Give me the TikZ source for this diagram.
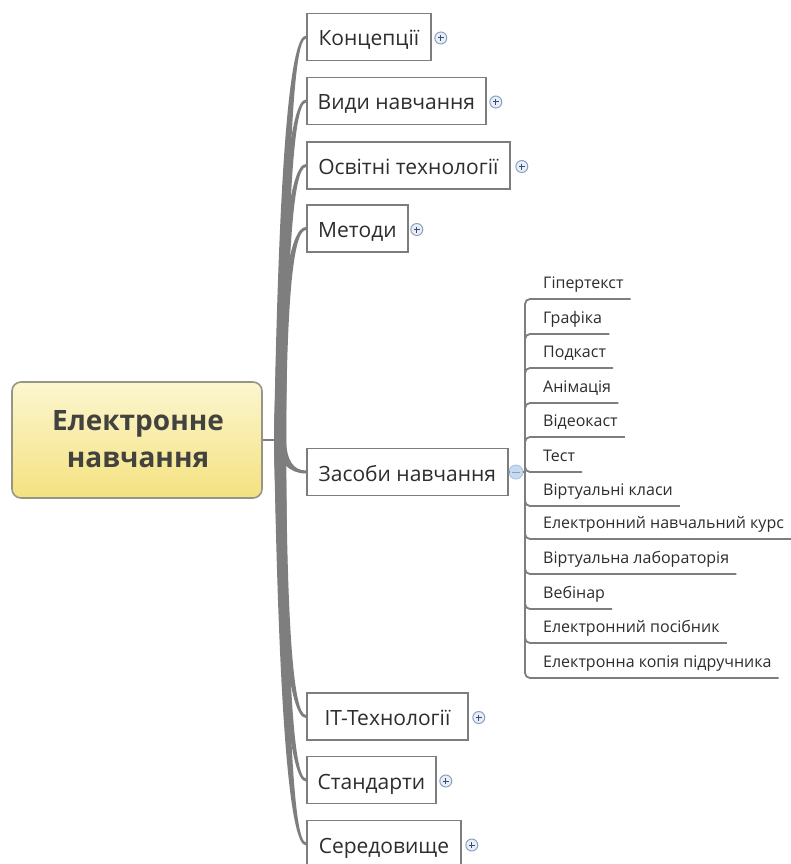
\documentclass[tikz,border=0pt]{standalone}
\usepackage{fontspec}
\setmainfont{Open Sans}
\usetikzlibrary{calc}
\definecolor{boxgray}{RGB}{125,125,125}
\definecolor{limbgray}{RGB}{126,126,126}
\definecolor{txtgray}{RGB}{45,45,45}
\definecolor{roottxt}{RGB}{66,66,62}
\definecolor{rootborder}{RGB}{150,150,135}
\definecolor{roottop}{RGB}{252,246,208}
\definecolor{rootbot}{RGB}{244,226,128}
\definecolor{plusring}{RGB}{140,160,190}
\definecolor{plusfill}{RGB}{232,238,248}
\definecolor{plusbar}{RGB}{60,75,110}
\definecolor{minusring}{RGB}{170,196,228}
\definecolor{minusfill}{RGB}{200,218,240}
\tikzset{
  branchbox/.style={draw=boxgray, line width=1.8, fill=white, anchor=west,
    minimum height=47, inner xsep=0, inner ysep=0, text=txtgray,
    font=\fontsize{21}{24}\selectfont, text height=18, text depth=0},
  rootbox/.style={draw=rootborder, line width=1.6, rounded corners=9,
    top color=roottop, bottom color=rootbot, minimum width=250, minimum height=116, inner sep=0},
  roottext/.style={anchor=base, inner sep=0, text=roottxt, font=\fontsize{28}{34}\selectfont\bfseries},
  subitem/.style={anchor=base west, inner sep=0, text=txtgray, font=\fontsize{16}{18}\selectfont},
  subline/.style={draw=limbgray, line width=1.8},
  limbfill/.style={fill=limbgray},
  plusicon/.style={circle, draw=plusring, fill=plusfill, line width=1, minimum size=12, inner sep=0,
    path picture={\draw[line width=1, draw=plusbar] ($(path picture bounding box.center)+(-3,0)$) -- ($(path picture bounding box.center)+(3,0)$)
      ($(path picture bounding box.center)+(0,-3)$) -- ($(path picture bounding box.center)+(0,3)$);}},
  minusicon/.style={circle, draw=minusring, fill=minusfill, line width=0.9, minimum size=14, inner sep=0,
    path picture={\draw[line width=1, draw=plusring] ($(path picture bounding box.center)+(-4,0)$) -- ($(path picture bounding box.center)+(4,0)$);}}
}
\newcommand\limb[2]{%
  \path ($(hub)+(-6,0)$) coordinate (l0) ($(hub |- #1.west)+(1,#2*1.5)$) coordinate (lq) ($(#1.west)+(0,#2*1.5)$) coordinate (l1)
        ($(hub)+(6,0)$) coordinate (r0) ($(hub |- #1.west)+(7,-#2*1.5)$) coordinate (rq) ($(#1.west)+(0,-#2*1.5)$) coordinate (r1);
  \fill[limbfill] (l0) .. controls ($(l0)!0.6667!(lq)$) and ($(l1)!0.6667!(lq)$) .. (l1) -- (r1)
     .. controls ($(r1)!0.6667!(rq)$) and ($(r0)!0.6667!(rq)$) .. (r0) -- cycle;}
\begin{document}
\begin{tikzpicture}[x=1pt,y=-1pt]
\useasboundingbox (0,0) rectangle (790,864);
\fill[white] (0,0) rectangle (790,864);

% root
\node[rootbox] (root) at (137,440) {};
\node[roottext] (rl1) at (138,430) {Електронне};
\node[roottext] (rl2) at (138,467) {навчання};
\coordinate (hub) at (280,440);

% branches
\node[branchbox, minimum width=124] (b1) at (306,37) {Концепції};
\node[branchbox, minimum width=179] (b2) at (306,101) {Види навчання};
\node[branchbox, minimum width=203] (b3) at (306,165.5) {Освітні технології};
\node[branchbox, minimum width=101] (b4) at (306,228.5) {Методи};
\node[branchbox, minimum width=201] (b5) at (306,472) {Засоби навчання};
\node[branchbox, minimum width=161] (b6) at (306,716.5) {IT-Технології};
\node[branchbox, minimum width=129] (b7) at (306,780) {Стандарти};
\node[branchbox, minimum width=154] (b8) at (306,844) {Середовище};

% limbs
\draw[subline] (root.east) -- (hub);
\limb{b1}{-1}
\limb{b2}{-1}
\limb{b3}{-1}
\limb{b4}{-1}
\limb{b5}{1}
\limb{b6}{1}
\limb{b7}{1}
\limb{b8}{1}

% plus icons
\node[plusicon] (p1) at ($(b1.east)+(9,1)$) {};
\node[plusicon] (p2) at ($(b2.east)+(9,1)$) {};
\node[plusicon] (p3) at ($(b3.east)+(11,1)$) {};
\node[plusicon] (p4) at ($(b4.east)+(8,1)$) {};
\node[plusicon] (p6) at ($(b6.east)+(10,1)$) {};
\node[plusicon] (p7) at ($(b7.east)+(9,1)$) {};
\node[plusicon] (p8) at ($(b8.east)+(10,1)$) {};

% sub tree
\node[minusicon] (mz) at (516,472) {};
\coordinate (junc) at (525,472);
\draw[subline] (b5.east) -- (mz.west);
\draw[subline] (mz.east) -- (junc);
\foreach \t/\yy [count=\i] in {Гіпертекст/299, Графіка/334, Подкаст/368, Анімація/403, Відеокаст/437,
  Тест/472, Віртуальні класи/506, Електронний навчальний курс/539, Віртуальна лабораторія/574,
  Вебінар/609, Електронний посібник/643, Електронна копія підручника/678}{
  \node[subitem] (s\i) at (543,\yy-11) {\t};
  \draw[subline, rounded corners=5] (junc) |- ($(s\i.base east)+(7,11)$);
}
\end{tikzpicture}
\end{document}
